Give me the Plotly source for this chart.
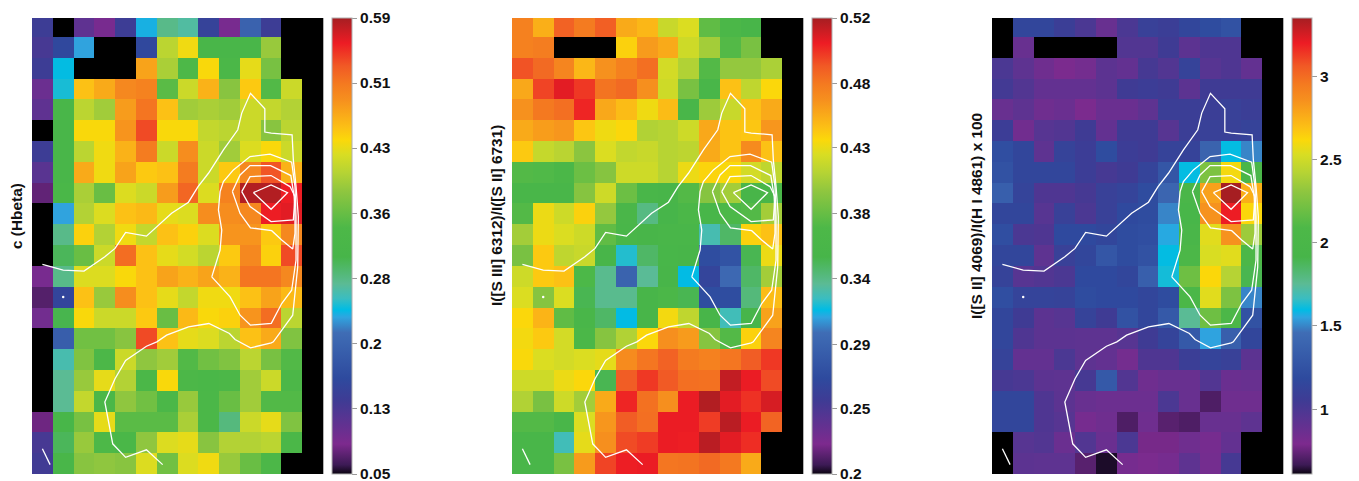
import math
import plotly.graph_objects as go

n = math.nan

c_hbeta = [
[.14,n,.11,.09,.14,.24,.28,.27,.15,.09,.20,.14,n,n],
[.13,.16,.235,n,n,.16,.41,.44,.32,.32,.32,.39,n,n],
[.14,.245,n,n,n,.48,.40,.34,.445,.33,.435,.37,n,n],
[.10,.25,.46,.475,.50,.505,.35,.42,.47,.38,.455,.345,.42,n],
[.11,.32,.41,.395,.485,.515,.46,.395,.40,.395,.42,.415,.405,n],
[n,.32,.445,.445,.49,.54,.445,.445,.415,.41,.42,.38,.41,n],
[.14,.32,.41,.44,.47,.51,.42,.495,.42,.395,.43,.445,.42,n],
[.115,.32,.475,.44,.48,.455,.46,.51,.42,.455,.50,.535,.47,n],
[.075,.325,.40,.36,.43,.42,.485,.525,.43,.505,.585,.585,.56,n],
[n,.235,.405,.43,.46,.465,.435,.43,.495,.495,.50,.56,.565,n],
[n,.28,.45,.405,.44,.415,.46,.45,.43,.49,.49,.455,.50,n],
[n,.30,.36,.42,.52,.46,.435,.425,.41,.455,.50,.45,.54,n],
[.09,.28,.43,.43,.445,.46,.48,.47,.48,.47,.515,.515,.50,n],
[.07,.155,.46,.39,.495,.46,.435,.415,.44,.44,.46,.48,.465,n],
[.095,.305,.445,.42,.42,.455,.36,.465,.445,.45,.49,.52,.41,n],
[n,.195,.365,.365,.38,.54,.46,.435,.43,.41,.46,.475,.375,n],
[n,.265,.375,.335,.42,.385,.395,.345,.365,.375,.41,.37,.345,n],
[n,.275,.39,.435,.405,.33,.445,.335,.325,.335,.395,.42,.335,n],
[n,.275,.415,.33,.385,.365,.33,.39,.33,.36,.395,.345,.345,n],
[.08,.315,.37,.435,.35,.35,.35,.40,.33,.285,.42,.435,.375,n],
[.13,.30,.39,.34,.325,.385,.43,.435,.38,.405,.405,.41,.33,n],
[.135,.32,.38,.385,.38,.43,.365,.43,.44,.39,.36,.335,n,n],
]

s3_s2 = [
[.47,.45,.483,.473,.484,.452,.447,.418,.425,.38,.365,.355,n,n],
[.47,.472,n,n,n,.437,.458,.452,.42,.405,.375,.39,n,n],
[.488,.48,.468,.447,.462,.47,.478,.422,.41,.375,.40,.40,.408,n],
[.453,.492,.505,.495,.476,.48,.463,.42,.39,.36,.443,.415,.435,n],
[.462,.474,.478,.50,.453,.445,.431,.445,.36,.403,.418,.443,.452,n],
[.452,.457,.46,.441,.431,.435,.41,.412,.42,.453,.442,.441,.46,n],
[.44,.417,.413,.397,.425,.416,.418,.412,.414,.452,.442,.465,.443,n],
[.375,.374,.365,.385,.395,.42,.42,.412,.43,.436,.434,.422,.415,n],
[.36,.36,.358,.395,.42,.385,.36,.355,.375,.395,.405,.355,.358,n],
[.375,.43,.42,.437,.40,.362,.338,.352,.365,.357,.37,.375,.405,n],
[.405,.43,.425,.42,.38,.36,.355,.358,.36,.327,.345,.437,.443,n],
[.39,.44,.415,.418,.355,.32,.345,.357,.355,.27,.275,.35,.43,n],
[.42,.44,.443,.37,.335,.29,.333,.355,.315,.262,.295,.345,.405,n],
[.425,.395,.425,.35,.335,.335,.355,.365,.35,.27,.27,.34,.445,n],
[.435,.448,.38,.36,.345,.315,.355,.432,.415,.355,.325,.352,.455,n],
[.432,.44,.422,.365,.395,.41,.435,.463,.458,.395,.375,.437,.468,n],
[.434,.425,.422,.425,.428,.465,.475,.483,.473,.47,.475,.485,.495,n],
[.42,.42,.43,.435,.35,.485,.495,.486,.478,.477,.513,.503,.49,n],
[.41,.39,.42,.405,.452,.50,.477,.463,.503,.517,.505,.497,.508,n],
[.375,.375,.36,.425,.46,.485,.478,.503,.503,.494,.515,.503,.482,n],
[.36,.358,.325,.428,.463,.49,.494,.503,.502,.515,.505,.498,n,n],
[.358,.358,.39,.458,.492,.502,.503,.475,.476,.48,.474,.452,n,n],
]

s2_hb = [
[n,1.15,1.15,1.08,1.0,.88,1.0,1.1,1.08,1.15,1.2,1.25,n,n],
[n,.88,n,n,n,n,.97,.97,1.05,.93,.98,.98,n,n],
[1.0,.92,.85,.80,.83,.93,.9,1.02,.97,1.12,.95,.98,.9,n],
[1.03,.97,.9,.9,.9,.93,1.05,1.07,1.05,.93,1.05,1.05,1.05,n],
[.88,.92,.85,.87,.8,.87,.87,.92,1.08,1.08,1.08,1.1,1.08,n],
[1.07,.84,.95,.97,1.05,.9,1.05,1.05,.95,1.08,1.1,1.1,1.12,n],
[1.22,1.15,.92,1.12,1.07,1.2,1.07,1.05,1.12,1.12,1.38,1.6,1.5,n],
[1.25,1.15,1.15,1.15,1.07,1.02,1.05,1.13,1.28,1.6,2.25,2.6,2.0,n],
[1.35,1.13,.98,.98,1.02,1.1,1.13,1.2,1.4,2.0,2.8,3.35,2.75,n],
[1.15,1.15,.95,1.1,1.0,1.1,1.18,1.2,1.5,1.95,2.85,3.2,2.62,n],
[1.22,1.0,.98,1.18,1.18,1.15,1.2,1.22,1.56,2.0,2.55,2.85,2.35,n],
[1.15,1.15,.92,1.1,1.15,1.28,1.2,1.25,1.6,2.05,2.53,2.55,2.05,n],
[1.12,.95,.97,1.0,1.18,1.18,1.15,1.35,1.62,2.2,2.62,2.42,1.9,n],
[1.22,1.13,1.13,1.12,1.2,1.18,1.18,1.15,1.2,2.03,2.55,2.25,1.5,n],
[1.15,1.05,.93,.95,1.12,1.05,1.25,1.15,1.3,1.75,2.2,2.05,1.25,n],
[1.15,.98,.93,.93,.92,.92,.95,1.05,1.13,1.3,1.55,1.35,1.15,n],
[1.12,.9,.9,1.0,.92,.9,.83,.98,.98,1.08,1.13,1.1,.93,n],
[1.02,1.0,.93,.92,1.02,1.3,.97,.85,.88,.88,.97,.87,.88,n],
[1.15,1.15,.98,.93,.88,.86,.86,.86,1.0,.88,.7,.85,.85,n],
[1.15,1.15,.98,.95,.82,.85,.7,.85,.72,.70,.88,.88,.92,n],
[n,.95,.97,.87,.97,.87,1.0,.78,.78,.85,.82,.9,n,n],
[n,.93,.92,.92,.72,.63,.82,.80,.82,.92,.83,1.02,n,n],
]

titles = ["c (Hbeta)", "I([S III] 6312)/I([S II] 6731)", "I([S II] 4069)/I(H I 4861) x 100"]
ranges = [(0.05, 0.59), (0.2, 0.52), (0.61, 3.35)]
tick_vals = [
    [0.05, 0.127, 0.204, 0.281, 0.359, 0.436, 0.513, 0.59],
    [0.2, 0.246, 0.291, 0.337, 0.383, 0.429, 0.474, 0.52],
    [1, 1.5, 2, 2.5, 3],
]
tick_text = [
    ["0.05", "0.13", "0.2", "0.28", "0.36", "0.43", "0.51", "0.59"],
    ["0.2", "0.25", "0.29", "0.34", "0.38", "0.43", "0.48", "0.52"],
    ["1", "1.5", "2", "2.5", "3"],
]

# white surface-brightness contours, in pixel-grid units (column, row)
outer_x = [0,1,2,3,3.49,4,5,5.5,6.21,7.02,7.48,7.98,8.70,9.39,9.58,10,10.69,10.69,11,12,12.06,12.19,12.3,12.27,12.14,12.03,11.1,11,10,9.26,8.99,8,7.02,5.97,5.5,5,4,3.49,3,3.25,3.38,4,5,5.78]
outer_y = [11.43,11.70,11.75,11.06,10.66,9.89,10.07,9.62,8.97,8.44,7.69,7.05,5.93,4.96,4.16,3.21,3.95,5.07,5.12,5.20,6.41,7.69,9.14,11.55,12.67,13.87,15.15,15.2,15.44,15.04,14.75,14.27,14.43,14.83,15.15,15.36,16.04,16.92,18.04,19.49,20.05,20.7,20.34,21.05]
b_x = [8.14,8.54,8.62,8.46,8.54,8.70,9.18,9.98,10.94,11.98,12.14,12.19,12.19,11.98,11.5,11,10,9.5,9.02,8.14]
b_y = [12.03,10.74,9.78,8.81,7.93,7.45,6.89,6.25,6.13,6.52,7.69,9.14,11.22,12.67,13.31,14.26,14.35,13.87,12.99,12.03]
c_x = [9.13,9.5,9.98,10.97,11.94,12.1,12.14,12.14,12.03,11.5,11.02,10,9.5,9.26,9.13]
c_y = [7.93,7.13,6.68,6.68,7.16,8.17,9.14,9.94,10.69,10.26,9.81,9.67,8.98,8.33,7.93]
d_x = [9.58,9.98,10.99,11.9,12.14,12.06,10.99,9.98,9.58]
d_y = [7.93,7.21,7.16,7.69,8.17,9.29,9.37,8.65,7.93]
e_x = [10.14,10.99,11.78,10.99,10.14]
e_y = [7.98,7.61,7.98,8.78,7.98]
bar_x = [0,0.37]
bar_y = [20.29,21.05]
dot_x = [1]
dot_y = [13]

scale = [
    [0.0, "#0a0410"], [0.02, "#3c1a55"], [0.066, "#7d2a8e"], [0.16, "#3f3b94"],
    [0.21, "#2e4a9e"], [0.31, "#3f6db5"], [0.344, "#2fa5e0"], [0.36, "#00bce4"],
    [0.385, "#3bbdc0"], [0.417, "#5bbb94"], [0.476, "#47b549"], [0.54, "#4db848"],
    [0.62, "#8fc63f"], [0.66, "#b5d334"], [0.70, "#d8dd23"], [0.733, "#fbd80a"],
    [0.76, "#fcc015"], [0.82, "#f6901e"], [0.855, "#f47a20"], [0.894, "#f15a25"],
    [0.945, "#ed1c24"], [1.0, "#a61e22"],
]

W, H = 1359, 481
panel_left = [32, 512, 992]
panel_w = 291.3
bar_left = [331.7, 811.7, 1292]
title_x = [16, 496, 976]
top, bottom = 18, 474
font = "Liberation Sans"

fig = go.Figure()
layout = {}
for i, z in enumerate([c_hbeta, s3_s2, s2_hb]):
    k = "" if i == 0 else str(i + 1)
    fig.add_trace(go.Heatmap(z=z, coloraxis="coloraxis" + k, xaxis="x" + k, yaxis="y" + k,
                             hoverongaps=False))
    for xs, ys in [(outer_x, outer_y), (b_x, b_y), (c_x, c_y), (d_x, d_y), (e_x, e_y), (bar_x, bar_y)]:
        fig.add_trace(go.Scatter(x=xs, y=ys, mode="lines", xaxis="x" + k, yaxis="y" + k,
                                 line=dict(color="white", width=1.3), showlegend=False,
                                 hoverinfo="skip"))
    fig.add_trace(go.Scatter(x=dot_x, y=dot_y, mode="markers", xaxis="x" + k, yaxis="y" + k,
                             marker=dict(color="white", size=2.5), showlegend=False,
                             hoverinfo="skip"))
    layout["xaxis" + k] = dict(domain=[panel_left[i] / W, (panel_left[i] + panel_w) / W],
                               range=[-0.5, 13.5], showticklabels=False, ticks="", showgrid=False,
                               zeroline=False, anchor="y" + k)
    layout["yaxis" + k] = dict(domain=[1 - bottom / H, 1 - top / H],
                               range=[21.5, -0.41], showticklabels=False, ticks="", showgrid=False,
                               zeroline=False, anchor="x" + k)
    layout["coloraxis" + k] = dict(
        colorscale=scale, cmin=ranges[i][0], cmax=ranges[i][1],
        colorbar=dict(
            x=bar_left[i] / W, xanchor="left", xref="paper", xpad=0,
            y=1 - (top + bottom) / 2 / H, yanchor="middle", yref="paper", ypad=0,
            lenmode="pixels", len=bottom - top, thicknessmode="pixels", thickness=20,
            outlinecolor="#b0b0b0", outlinewidth=1, borderwidth=0,
            tickmode="array", tickvals=tick_vals[i], ticktext=tick_text[i],
            ticks="outside", ticklen=5, tickcolor="#9a9a9a", tickwidth=1,
            ticklabeloverflow="allow",
            tickfont=dict(family=font, size=15.5, color="#111111", weight="bold"),
        ),
    )
    fig.add_annotation(text="<b>%s</b>" % titles[i], xref="paper", yref="paper",
                       x=title_x[i] / W, y=1 - 216 / H, textangle=-90, showarrow=False,
                       xanchor="center", yanchor="middle",
                       font=dict(family=font, size=15.4, color="#111111"))

fig.update_layout(width=W, height=H, margin=dict(l=0, r=0, t=0, b=0),
                  paper_bgcolor="white", plot_bgcolor="black", showlegend=False, **layout)
fig.write_html("out.html", config={"displayModeBar": False},
               post_script="document.body.style.margin='0';document.body.style.overflow='hidden';")
